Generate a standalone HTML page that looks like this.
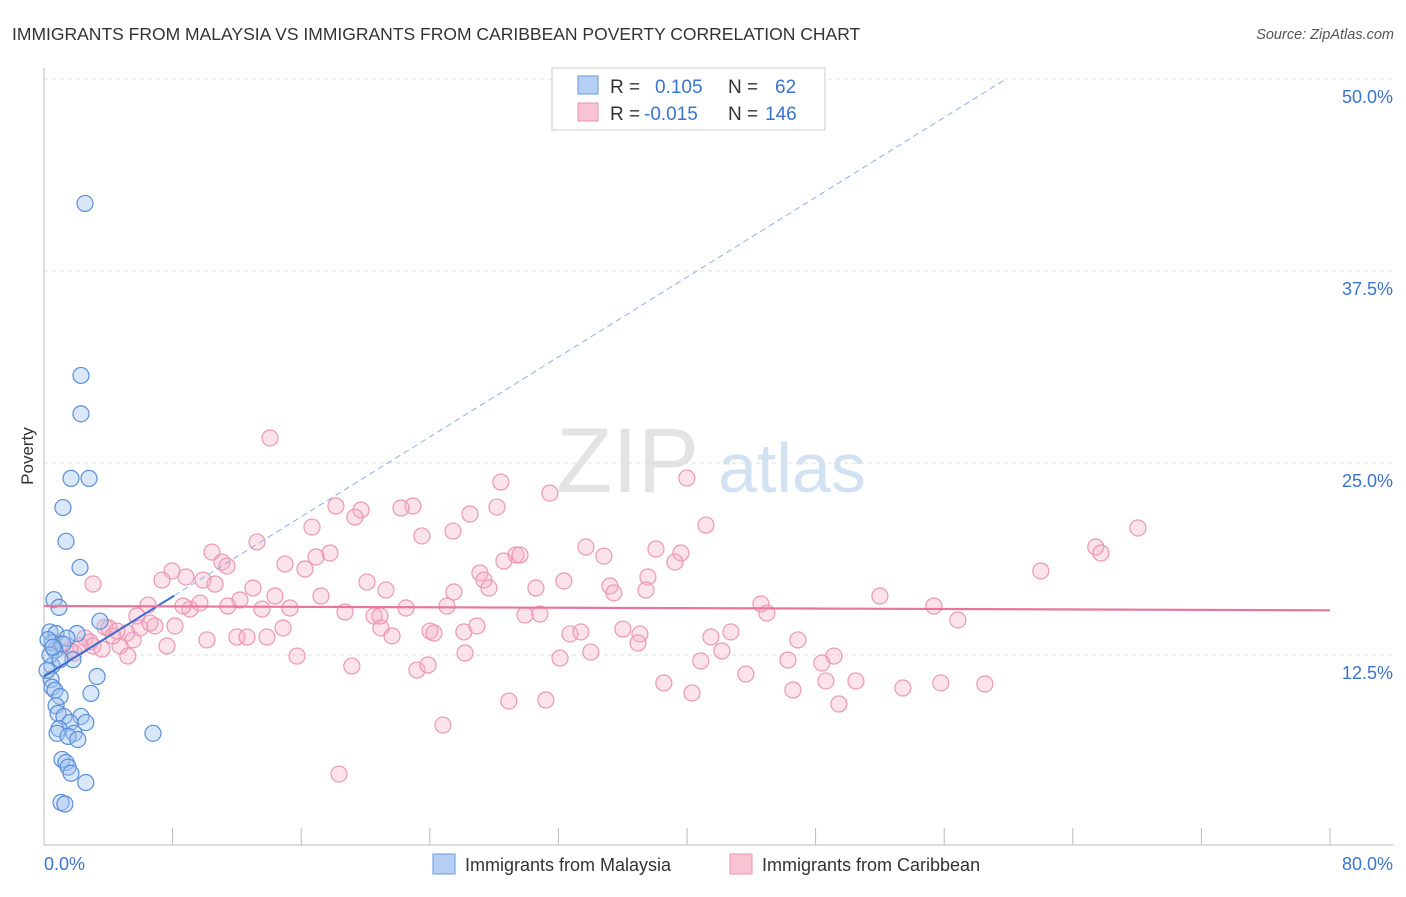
<!DOCTYPE html>
<html><head><meta charset="utf-8"><style>
body{margin:0;background:#fff;font-family:"Liberation Sans",sans-serif;}
svg text{font-family:"Liberation Sans",sans-serif;}
</style></head><body>
<svg id="chart" width="1406" height="892" viewBox="0 0 1406 892">
<text x="12" y="40" font-size="17.5" fill="#333">IMMIGRANTS FROM MALAYSIA VS IMMIGRANTS FROM CARIBBEAN POVERTY CORRELATION CHART</text>
<text x="1394" y="39" font-size="14.5" fill="#555" font-style="italic" text-anchor="end">Source: ZipAtlas.com</text>
<g>
<text x="556" y="492" font-size="92" fill="#e3e3e3" font-family="Liberation Serif, serif">ZIP</text>
<text x="718" y="492" font-size="70" fill="#d3e2f3">atlas</text>
</g>
<g id="grid"></g>
<g id="axes"></g>
<text x="33" y="456" font-size="17" fill="#333" text-anchor="middle" transform="rotate(-90 33 456)">Poverty</text>
<g id="pts"></g>
<g id="trends"></g>
<g>
<rect x="552" y="68" width="273" height="62" fill="#fff" stroke="#ccc"/>
<rect x="578" y="76" width="20" height="18" fill="#b6d0f5" stroke="#6a9ad8"/>
<rect x="578" y="103" width="20" height="18" fill="#f8c3d2" stroke="#e994ae"/>
<text x="610" y="93" font-size="19" fill="#333">R = </text><text x="655" y="93" font-size="19" fill="#3a74d0">0.105</text>
<text x="728" y="93" font-size="19" fill="#333">N = </text><text x="775" y="93" font-size="19" fill="#3a74d0">62</text>
<text x="610" y="120" font-size="19" fill="#333">R = </text><text x="644" y="120" font-size="19" fill="#3a74d0">-0.015</text>
<text x="728" y="120" font-size="19" fill="#333">N = </text><text x="765" y="120" font-size="19" fill="#3a74d0">146</text>
</g>
<g>
<rect x="433" y="854" width="22" height="20" fill="#b6d0f5" stroke="#6a9ad8"/>
<text x="465" y="871" font-size="18" fill="#333">Immigrants from Malaysia</text>
<rect x="730" y="854" width="22" height="20" fill="#f8c3d2" stroke="#e994ae"/>
<text x="762" y="871" font-size="18" fill="#333">Immigrants from Caribbean</text>
</g>
</svg>
<script>
const yTicks=[12.5,25,37.5,50];
const xTickLabels=["0.0%","80.0%"];
const blueX=[2.55,2.3,2.3,1.68,2.8,1.18,1.37,2.24,0.62,0.93,3.48,0.37,0.75,2.05,1.43,0.5,1.18,0.68,1.8,0.5,3.3,0.44,0.5,0.68,2.92,1.0,0.75,0.87,1.24,2.3,2.6,1.62,0.93,0.81,1.87,1.5,2.1,6.78,1.12,1.37,1.5,1.68,2.6,1.06,1.3,0.25,0.37,1.0,0.56,0.19];
const blueY=[41.9,30.7,28.2,24.0,24.0,22.1,19.9,18.2,16.1,15.6,14.7,14.0,13.9,13.9,13.6,13.3,13.2,12.8,12.2,11.8,11.1,10.9,10.4,10.2,10.0,9.8,9.2,8.7,8.5,8.5,8.1,8.1,7.7,7.4,7.4,7.2,7.0,7.4,5.7,5.5,5.2,4.8,4.2,2.9,2.8,13.5,12.5,12.2,13.0,11.5];
const pinkX=[14.06,28.42,39.99,31.47,22.95,22.21,18.16,19.72,19.34,26.5,28.18,68.05,41.18,16.67,25.44,23.51,13.25,65.43,65.75,33.71,38.07,10.45,17.79,29.36,29.61,28.61,39.62,39.25,34.83,11.07,11.38,16.92,14.99,16.23,62.01,7.96,8.83,7.34,9.89,10.64,20.09,27.12,27.37,27.68,30.6,32.34,35.21,37.57,37.45,35.45,3.05,13.0,14.37,17.23,21.27,25.5,52.0,44.6,55.36,12.19,9.7,6.47,9.08,8.65,11.44,13.56,15.3,18.72,22.52,25.07,44.97,20.53,20.9,29.92,30.85,5.78,56.85,3.79,4.04,5.97,6.9,8.15,14.87,20.96,26.12,26.93,24.01,24.26,32.72,33.4,36.01,37.07,42.73,41.49,46.9,2.55,5.16,5.54,2.86,3.05,3.61,4.73,7.65,10.14,12.0,12.63,13.87,15.74,21.65,36.95,42.17,49.14,34.02,26.19,32.1,46.28,40.86,1.87,5.22,19.15,23.2,23.89,48.39,43.66,38.56,40.31,50.51,48.64,53.43,55.79,58.53,46.59,28.92,31.22,49.45,24.82,18.35,4.29,2.24,1.62,4.54,1.06,6.59];
const pinkY=[26.63,23.76,24.02,23.04,22.2,22.07,22.2,21.94,21.48,21.68,22.13,20.77,20.96,20.83,20.57,20.25,19.86,19.53,19.14,19.53,19.4,19.2,19.14,19.01,19.01,18.62,19.14,18.55,18.94,18.55,18.29,18.88,18.42,18.1,17.97,17.97,17.58,17.38,17.38,17.12,17.25,17.84,17.38,16.86,16.86,17.32,16.99,17.58,16.73,16.54,17.12,16.86,16.34,16.34,16.73,16.6,16.34,15.82,15.69,16.08,15.88,15.75,15.49,15.69,15.69,15.49,15.56,15.3,15.56,15.69,15.23,15.04,15.04,15.1,15.17,15.04,14.78,14.32,14.26,14.26,14.39,14.39,14.26,14.26,14.0,14.39,14.06,13.93,13.87,14.0,14.19,13.87,14.0,13.67,13.48,13.61,13.93,13.48,13.35,13.09,12.89,13.09,13.09,13.48,13.67,13.67,13.67,12.43,13.74,13.28,12.76,12.43,12.69,12.63,12.3,12.17,12.11,12.63,12.43,11.78,11.52,11.85,11.98,11.26,10.68,10.03,10.81,10.81,10.35,10.68,10.61,10.22,9.5,9.57,9.31,7.94,4.75,13.74,13.09,12.82,14.06,13.28,14.58];
const blueTrend=[11.1,0.65];   // intercept, slope
const pinkTrend=[15.69,-0.0035];

const NS="http://www.w3.org/2000/svg";
const X=v=>44+v*16.075;
const Y=v=>847-v*15.36;
function mk(tag,attrs,parent){const e=document.createElementNS(NS,tag);for(const k in attrs)e.setAttribute(k,attrs[k]);parent.appendChild(e);return e;}
const grid=document.getElementById('grid'),axes=document.getElementById('axes'),pts=document.getElementById('pts'),tr=document.getElementById('trends');
yTicks.forEach(t=>{
  const l=mk('line',{x1:44,x2:1393,y1:Y(t),y2:Y(t),stroke:'#ddd','stroke-dasharray':'4,4'},grid);
  
  
  const tx=mk('text',{x:1393,y:Y(t)+24,'font-size':18,fill:'#3a74d0','text-anchor':'end'},grid);
  tx.textContent=t.toFixed(1)+'%';
  
  
});
mk('line',{x1:44,x2:44,y1:68,y2:845,stroke:'#bbb'},axes);
mk('line',{x1:44,x2:1393,y1:845,y2:845,stroke:'#bbb'},axes);
for(let i=0;i<=10;i++){
  const t=mk('line',{x1:X(i*8),x2:X(i*8),y1:828,y2:845,stroke:'#bbb'},axes);
  
  
}
const xl0=mk('text',{x:44,y:870,'font-size':18,fill:'#3a74d0'},axes);xl0.textContent=xTickLabels[0];


const xl1=mk('text',{x:1393,y:870,'font-size':18,fill:'#3a74d0','text-anchor':'end'},axes);xl1.textContent=xTickLabels[1];


pinkX.forEach((x,i)=>{
  const c=mk('circle',{cx:X(x),cy:Y(pinkY[i]),r:8,fill:'rgba(246,176,198,0.35)',stroke:'#eb97b2','stroke-width':1.2},pts);
  
  
});
blueX.forEach((x,i)=>{
  const c=mk('circle',{cx:X(x),cy:Y(blueY[i]),r:8,fill:'rgba(160,195,240,0.4)',stroke:'#5a8ed8','stroke-width':1.2},pts);
  
  
});
const bSolidEnd=8.1, bDashEnd=59.8;
const b1=mk('line',{x1:X(0),y1:Y(blueTrend[0]),x2:X(bSolidEnd),y2:Y(blueTrend[0]+blueTrend[1]*bSolidEnd),stroke:'#3a6fd0','stroke-width':2},tr);


const b2=mk('line',{x1:X(bSolidEnd),y1:Y(blueTrend[0]+blueTrend[1]*bSolidEnd),x2:X(bDashEnd),y2:Y(blueTrend[0]+blueTrend[1]*bDashEnd),stroke:'#8fb0e4','stroke-width':1,'stroke-dasharray':'6,4'},tr);


const p1=mk('line',{x1:X(0),y1:Y(pinkTrend[0]),x2:X(80),y2:Y(pinkTrend[0]+pinkTrend[1]*80),stroke:'#e8759c','stroke-width':2.2},tr);


</script>
</body></html>
